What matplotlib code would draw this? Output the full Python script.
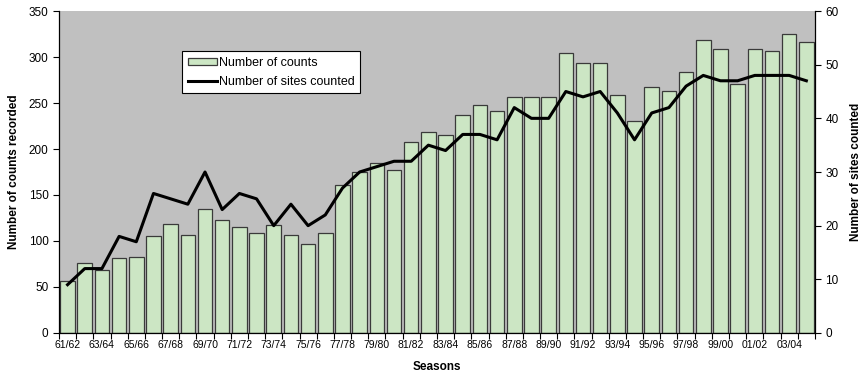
import numpy as np
import matplotlib
matplotlib.use("Agg")
import matplotlib.pyplot as plt
from matplotlib.ticker import FixedLocator, NullFormatter

plt.rcParams['font.family'] = ['Liberation Sans', 'DejaVu Sans']

# seasons 61/62 .. 04/05
seasons = ["%02d/%02d" % (y % 100, (y + 1) % 100) for y in range(1961, 2005)]

counts = [57, 76, 68, 81, 83, 105, 119, 106, 135, 123,
          115, 109, 117, 107, 97, 109, 161, 175, 185, 177,
          208, 219, 215, 237, 248, 241, 257, 257, 257, 304,
          294, 293, 259, 230, 267, 263, 284, 318, 309, 271,
          309, 306, 325, 316]

sites = [9, 12, 12, 18, 17, 26, 25, 24, 30, 23,
         26, 25, 20, 24, 20, 22, 27, 30, 31, 32,
         32, 35, 34, 37, 37, 36, 42, 40, 40, 45,
         44, 45, 41, 36, 41, 42, 46, 48, 47, 47,
         48, 48, 48, 47]

x = np.arange(len(seasons))

fig = plt.figure(figsize=(8.61, 3.76), dpi=100)
ax = fig.add_axes([0.0685, 0.1144, 0.878, 0.8563])
ax.set_facecolor('#C0C0C0')

bars = ax.bar(x, counts, width=0.85, color='#CCE6C4', edgecolor='#3a3a3a',
              linewidth=0.9, label='Number of counts', zorder=2)
ax.set_xlim(-0.5, len(x) - 0.5)
ax.set_ylim(0, 350)
ax.set_yticks(np.arange(0, 351, 50))
ax.tick_params(axis='y', labelsize=8.5, length=4, width=0.8, direction='out')

# labels under every other season, tick marks between categories
ax.set_xticks(x[::2])
ax.set_xticklabels(seasons[::2], fontsize=7.5)
ax.tick_params(axis='x', which='major', length=0, pad=5)
ax.xaxis.set_minor_locator(FixedLocator(np.arange(-0.5, len(x), 1)))
ax.xaxis.set_minor_formatter(NullFormatter())
ax.tick_params(axis='x', which='minor', length=4, width=0.8, direction='out')

for s in ['top', 'right']:
    ax.spines[s].set_visible(False)
for s in ['left', 'bottom']:
    ax.spines[s].set_linewidth(0.9)

ax.set_ylabel('Number of counts recorded', fontsize=8.5, fontweight='bold', labelpad=6)
ax.set_xlabel('Seasons', fontsize=8.5, fontweight='bold', labelpad=8)

ax2 = ax.twinx()
line, = ax2.plot(x, sites, color='black', linewidth=2.2, label='Number of sites counted', zorder=3)
ax2.set_ylim(0, 60)
ax2.set_yticks(np.arange(0, 61, 10))
ax2.tick_params(axis='y', labelsize=8.5, length=4, width=0.8, direction='out')
ax2.spines['top'].set_visible(False)
ax2.spines['left'].set_visible(False)
ax2.spines['bottom'].set_visible(False)
ax2.spines['right'].set_linewidth(0.9)
ax2.set_ylabel('Number of sites counted', fontsize=8.5, fontweight='bold', labelpad=8)

leg = ax2.legend([bars, line], ['Number of counts', 'Number of sites counted'],
                 loc='upper left', bbox_to_anchor=(0.163, 0.875), fontsize=9,
                 frameon=True, fancybox=False, framealpha=1, edgecolor='black',
                 borderpad=0.45, handlelength=2.3, handleheight=0.6,
                 handletextpad=0.2, labelspacing=0.55, borderaxespad=0)
leg.get_frame().set_linewidth(0.8)

fig.savefig('out.png', dpi=100)
